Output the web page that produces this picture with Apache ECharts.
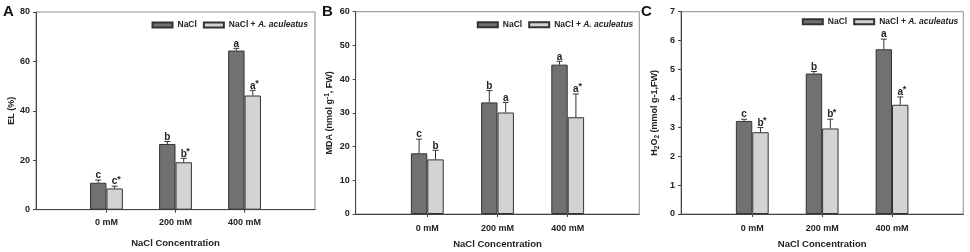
<!DOCTYPE html>
<html>
<head>
<meta charset="utf-8">
<script src="https://cdn.jsdelivr.net/npm/echarts@6/dist/echarts.min.js"></script>
<style>
  html, body { margin: 0; padding: 0; background: #fff; }
  #chart { width: 970px; height: 252px; }
</style>
</head>
<body>
<div id="chart"></div>
<script>
// categories shared by the three panels
const categories = ['0 mM', '200 mM', '400 mM'];
const seriesNames = ['NaCl', 'NaCl + A. aculeatus'];

// A: electrolyte leakage (%)
const elNaCl = [10.9, 26.6, 64.4];
const elNaClErr = [1.1, 1.0, 0.9];
const elNaClSig = ['c', 'b', 'a'];
const elTreat = [8.6, 19.2, 46.2];
const elTreatErr = [0.9, 1.6, 2.1];
const elTreatSig = ['c*', 'b*', 'a*'];

// B: MDA
const mdaNaCl = [18.0, 33.1, 44.3];
const mdaNaClErr = [4.2, 3.5, 1.0];
const mdaNaClSig = ['c', 'b', 'a'];
const mdaTreat = [16.2, 30.1, 28.7];
const mdaTreatErr = [2.7, 3.0, 6.9];
const mdaTreatSig = ['b', 'a', 'a*'];

// C: H2O2
const h2o2NaCl = [3.22, 4.86, 5.70];
const h2o2NaClErr = [0.06, 0.07, 0.35];
const h2o2NaClSig = ['c', 'b', 'a'];
const h2o2Treat = [2.83, 2.96, 3.78];
const h2o2TreatErr = [0.16, 0.32, 0.27];
const h2o2TreatSig = ['b*', 'b*', 'a*'];

// y axis ranges
const yMax = [80, 60, 7];
const yInterval = [20, 10, 1];

const FONT = '"Liberation Sans", Arial, sans-serif';
const DARK = '#707171';
const LIGHT = '#d2d3d2';
const EDGE = '#333';
const BAR_W = 16.4;

const panels = [
  { left: 36, top: 12, width: 279, height: 197.7, letter: 'A', name: '{t|EL (%)}',
    nacl: [elNaCl, elNaClErr, elNaClSig], treat: [elTreat, elTreatErr, elTreatSig],
    legendRight: 657, legendTop: 15.5, labelMargin: 8, nameGap: 29, yNameGap: 19 },
  { left: 355.7, top: 11.7, width: 283.6, height: 202.3, letter: 'B',
    name: '{t|MDA (nmol g}{sup|-1}{t|, FW)}',
    nacl: [mdaNaCl, mdaNaClErr, mdaNaClSig], treat: [mdaTreat, mdaTreatErr, mdaTreatSig],
    legendRight: 331.7, legendTop: 15.3, labelMargin: 10, nameGap: 25, yNameGap: 20 },
  { left: 681, top: 11.7, width: 282.3, height: 202.3, letter: 'C',
    name: '{t|H}{sub|2}{t|O}{sub|2}{t| (mmol g-1,FW)}',
    nacl: [h2o2NaCl, h2o2NaClErr, h2o2NaClSig], treat: [h2o2Treat, h2o2TreatErr, h2o2TreatSig],
    legendRight: 6.7, legendTop: 12.3, labelMargin: 10, nameGap: 25, yNameGap: 20 }
];

const grid = [], xAxis = [], yAxis = [], series = [], legend = [], graphic = [];

// error bar + significance letter above each bar
function errorSeries(idx, vals, errs, sigs, offset) {
  return {
    type: 'custom',
    xAxisIndex: idx,
    yAxisIndex: idx,
    z: 5,
    silent: true,
    data: vals.map((v, i) => [i, v, errs[i]]),
    renderItem: function (params, api) {
      const x = api.value(0), v = api.value(1), e = api.value(2);
      const base = api.coord([x, v]);
      const top = api.coord([x, v + e]);
      const cx = base[0] + offset;
      const sig = sigs[params.dataIndex];
      const letter = sig.replace('*', '');
      const children = [
        { type: 'line', shape: { x1: cx, y1: base[1], x2: cx, y2: top[1] },
          style: { stroke: EDGE, lineWidth: 1 } },
        { type: 'line', shape: { x1: cx - 3, y1: top[1], x2: cx + 3, y2: top[1] },
          style: { stroke: EDGE, lineWidth: 1 } },
        { type: 'text', x: cx, y: top[1] + 0.5,
          style: { text: letter, textAlign: 'center', textVerticalAlign: 'bottom',
            font: 'bold 10px ' + FONT, fill: '#222' } }
      ];
      if (sig.indexOf('*') >= 0) {
        children.push({ type: 'text', x: cx + 2.5, y: top[1] - 2.5,
          style: { text: '*', textAlign: 'left', textVerticalAlign: 'bottom',
            font: 'bold 9px ' + FONT, fill: '#222' } });
      }
      return { type: 'group', children: children };
    }
  };
}

panels.forEach((p, idx) => {
  grid.push({ left: p.left, top: p.top, width: p.width, height: p.height,
    outerBoundsMode: 'none', containLabel: false,
    show: true, borderColor: '#8c8c8c', borderWidth: 1, backgroundColor: 'transparent' });

  xAxis.push({
    gridIndex: idx, type: 'value', min: -1.02, max: 3.02,
    splitLine: { show: false },
    axisLine: { onZero: false, lineStyle: { color: '#444', width: 1 } },
    axisTick: { show: true, length: 3, customValues: [0, 1, 2], lineStyle: { color: '#444' } },
    axisLabel: { customValues: [0, 1, 2], formatter: v => categories[v] || '',
      margin: p.labelMargin, fontFamily: FONT, fontWeight: 'bold', fontSize: 9, color: '#222' },
    name: 'NaCl Concentration', nameLocation: 'middle', nameGap: p.nameGap,
    nameTextStyle: { fontFamily: FONT, fontWeight: 'bold', fontSize: 9.5, color: '#222' }
  });

  yAxis.push({
    gridIndex: idx, type: 'value', min: 0, max: yMax[idx], interval: yInterval[idx],
    splitLine: { show: false },
    axisLine: { show: true, onZero: false, lineStyle: { color: '#444', width: 1 } },
    axisTick: { show: true, length: 3, lineStyle: { color: '#444' } },
    axisLabel: { margin: 6, fontFamily: FONT, fontWeight: 'bold', fontSize: 9, color: '#222' },
    name: p.name, nameLocation: 'middle', nameRotate: 90, nameGap: p.yNameGap,
    nameTextStyle: {
      fontFamily: FONT, fontWeight: 'bold', fontSize: 9, color: '#222',
      rich: {
        t: { fontFamily: FONT, fontWeight: 'bold', fontSize: 9, color: '#222' },
        sup: { fontFamily: FONT, fontWeight: 'bold', fontSize: 6.5, color: '#222', verticalAlign: 'top', padding: [0, 0, 5, 0] },
        sub: { fontFamily: FONT, fontWeight: 'bold', fontSize: 6.5, color: '#222', verticalAlign: 'bottom', padding: [5, 0, 0, 0] }
      }
    }
  });

  series.push({
    name: seriesNames[0], type: 'bar', xAxisIndex: idx, yAxisIndex: idx,
    barWidth: BAR_W, barGap: '0%',
    itemStyle: { color: DARK, borderColor: EDGE, borderWidth: 1 },
    data: p.nacl[0].map((v, i) => [i, v])
  });
  series.push({
    name: seriesNames[1], type: 'bar', xAxisIndex: idx, yAxisIndex: idx,
    barWidth: BAR_W, barGap: '0%',
    itemStyle: { color: LIGHT, borderColor: EDGE, borderWidth: 1 },
    data: p.treat[0].map((v, i) => [i, v])
  });
  series.push(errorSeries(idx, p.nacl[0], p.nacl[1], p.nacl[2], -BAR_W / 2));
  series.push(errorSeries(idx, p.treat[0], p.treat[1], p.treat[2], BAR_W / 2));

  legend.push({
    data: seriesNames, right: p.legendRight, top: p.legendTop,
    orient: 'horizontal', itemWidth: 20, itemHeight: 5, itemGap: 6,
    icon: 'rect', selectedMode: false,
    formatter: name => name === seriesNames[0] ? '{n|NaCl}' : '{n|NaCl + }{i|A. aculeatus}',
    textStyle: {
      rich: {
        n: { fontFamily: FONT, fontWeight: 'bold', fontSize: 8.5, color: '#222' },
        i: { fontFamily: FONT, fontWeight: 'bold', fontStyle: 'italic', fontSize: 8.5, color: '#222' }
      }
    }
  });

  graphic.push({
    type: 'text', left: [3, 322, 641][idx], top: 4,
    style: { text: p.letter, font: 'bold 15px ' + FONT, fill: '#111' }
  });
});

const chart = echarts.init(document.getElementById('chart'), null, { renderer: 'canvas' });
chart.setOption({
  animation: false,
  backgroundColor: '#fff',
  grid: grid,
  xAxis: xAxis,
  yAxis: yAxis,
  legend: legend,
  graphic: graphic,
  series: series
});
</script>
</body>
</html>
